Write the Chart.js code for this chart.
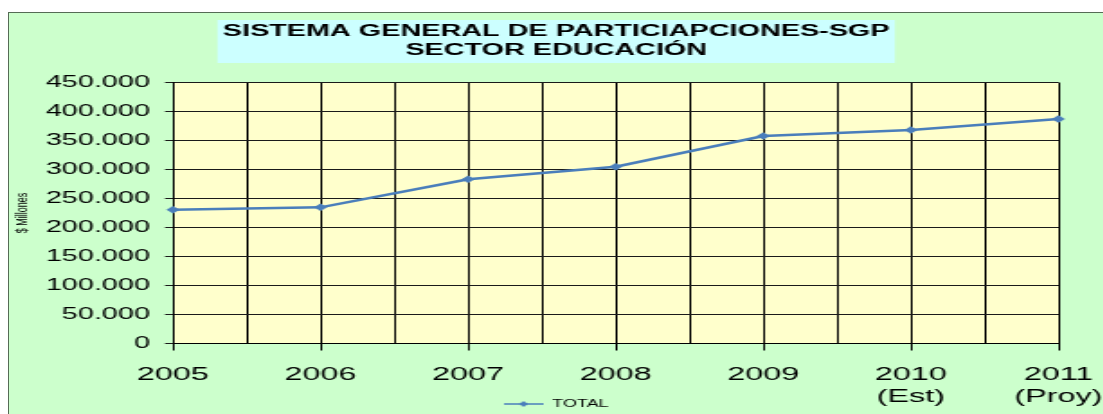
<!DOCTYPE html>
<html>
<head>
<meta charset="utf-8">
<script src="https://cdn.jsdelivr.net/npm/chart.js"></script>
<style>
  html, body { margin: 0; padding: 0; background: #fff; overflow: hidden; width: 1103px; height: 414px; }
  #frame { position: absolute; left: 8px; top: 12px; width: 1110px; height: 430px; background: #ccffcc; border: 1px solid #556b55; box-sizing: border-box; overflow: hidden; }
  /* the original picture is stretched sideways, so the chart is drawn narrow and scaled */
  #lineChart { position: absolute; left: 0; top: 0; width: 608px; height: 423px; transform: scaleX(1.8); transform-origin: 0 0; }
</style>
</head>
<body>
<div id="frame"><canvas id="lineChart" width="608" height="423"></canvas></div>
<script>
var years = ['2005', '2006', '2007', '2008', '2009', '2010', '2011'];
var yearNotes = ['', '', '', '', '', '(Est)', '(Proy)'];
var total = [230700, 234800, 283100, 304800, 357800, 368100, 387100];
var yMin = 0, yMax = 450000, yStep = 50000;
var chartTitle = ['SISTEMA GENERAL DE PARTICIAPCIONES-SGP', 'SECTOR EDUCACIÓN'];
var seriesName = 'TOTAL';
var axisTitle = '$ Millones';

Chart.defaults.font.family = '"Liberation Sans", Arial, sans-serif';
Chart.defaults.color = '#000';

var blue = '#4a7ebb';

// little line + diamond for the legend
var legendMark = document.createElement('canvas');
legendMark.width = 22;
legendMark.height = 8;
var g = legendMark.getContext('2d');
g.strokeStyle = blue;
g.lineWidth = 1.5;
g.beginPath(); g.moveTo(0, 4); g.lineTo(22, 4); g.stroke();
g.fillStyle = blue;
g.beginPath(); g.moveTo(11, 1); g.lineTo(13.5, 4); g.lineTo(11, 7); g.lineTo(8.5, 4); g.closePath(); g.fill();

var backdrop = {
  id: 'backdrop',
  afterLayout: function(chart) {
    // legend sits up between the year labels, like in Excel
    chart.legend.top -= 17;
    chart.legend.bottom -= 17;
  },
  beforeDraw: function(chart) {
    var ctx = chart.ctx, a = chart.chartArea, t = chart.titleBlock;
    ctx.save();
    ctx.fillStyle = '#ffffcc';
    ctx.fillRect(a.left, a.top, a.right - a.left, a.bottom - a.top);
    ctx.font = 'bold 16px "Liberation Sans", Arial, sans-serif';
    var w = Math.max.apply(null, chartTitle.map(function(s) { return ctx.measureText(s).width; }));
    var cx = (t.left + t.right) / 2;
    ctx.fillStyle = '#ccffff';
    ctx.fillRect(cx - w / 2 - 3, t.top + 7, w + 6, 43);
    ctx.restore();
  }
};

function dots(v) {
  return String(v).replace(/\B(?=(\d{3})+(?!\d))/g, '.');
}

var chartCtx = document.getElementById('lineChart').getContext('2d');
var lineChart = new Chart(chartCtx, {
  type: 'line',
  data: {
    datasets: [{
      label: seriesName,
      data: total.map(function(v, i) { return { x: i, y: v }; }),
      borderColor: blue,
      backgroundColor: blue,
      borderWidth: 2.5,
      pointStyle: 'rectRot',
      pointRadius: 3.7,
      pointBackgroundColor: blue,
      pointBorderColor: blue,
      pointBorderWidth: 0,
      tension: 0,
      clip: false
    }]
  },
  options: {
    responsive: false,
    animation: false,
    layout: { padding: 0 },
    plugins: {
      title: {
        display: true,
        text: chartTitle,
        color: '#000',
        font: { size: 16, weight: 'bold' },
        padding: { top: 9, bottom: 22.1 }
      },
      legend: {
        position: 'bottom',
        labels: {
          usePointStyle: true,
          pointStyle: legendMark,
          pointStyleWidth: 22,
          padding: 10,
          color: '#000',
          font: { size: 10 }
        }
      },
      tooltip: { enabled: false }
    },
    scales: {
      x: {
        type: 'linear',
        min: 0,
        max: years.length - 1,
        afterFit: function(s) {
          s.height = 62.5;
          s.paddingLeft = 20;
          s.paddingRight = 25;
        },
        ticks: {
          stepSize: 0.5,
          autoSkip: false,
          maxRotation: 0,
          padding: 14,
          color: '#000',
          font: { size: 18, lineHeight: 1.2 },
          callback: function(v) {
            if (!Number.isInteger(v)) return '';
            return yearNotes[v] ? [years[v], yearNotes[v]] : years[v];
          }
        },
        grid: {
          color: '#000',
          lineWidth: 1,
          tickLength: 7,
          tickColor: function(c) {
            return c.tick && Number.isInteger(c.tick.value) ? '#000' : 'rgba(0,0,0,0)';
          }
        },
        border: { color: '#000', width: 1 }
      },
      y: {
        min: yMin,
        max: yMax,
        afterFit: function(s) { s.width = 91.1; },
        ticks: {
          stepSize: yStep,
          padding: 8.4,
          color: '#000',
          font: { size: 16 },
          callback: function(v) { return dots(v); }
        },
        grid: { color: '#1a1a1a', lineWidth: 1, tickLength: 4.4 },
        border: { color: '#000', width: 1 },
        title: {
          display: true,
          text: axisTitle,
          color: '#000',
          font: { size: 9 },
          padding: { top: 2, bottom: 0 }
        }
      }
    }
  },
  plugins: [backdrop]
});
</script>
</body>
</html>
